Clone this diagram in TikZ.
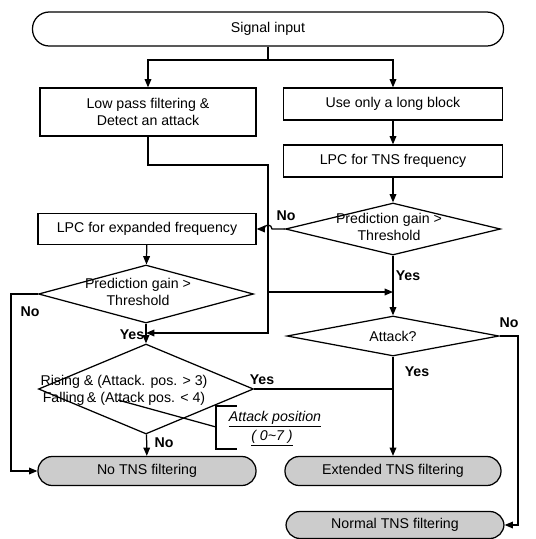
\documentclass[tikz,border=0pt]{standalone}
\usepackage{fontspec}
\setmainfont{Liberation Sans}
\usetikzlibrary{shapes.geometric,arrows.meta}
\begin{document}
\begin{tikzpicture}[
		x=0.6pt, y=-0.6pt, line width=0.75pt,
		>={Triangle[length=5pt,width=4pt]},
		font=\fontsize{8.5}{10}\selectfont,
		blocco/.style={draw, rectangle, inner sep=0pt, align=center},
		inizio/.style={draw, rectangle, rounded corners=10pt, inner sep=0pt},
		terminale/.style={draw, rectangle, rounded corners=8.5pt, fill=black!20, inner sep=0pt},
		scelta/.style={draw, diamond, inner sep=0pt},
		testo/.style={align=center, inner sep=0pt},
		esito/.style={font=\bfseries\fontsize{8.5}{10}\selectfont, inner sep=0pt},
		nota/.style={font=\itshape\fontsize{8.5}{10}\selectfont, inner sep=0pt}]
	
	\def\u{0.6pt}  %% un pixel del riferimento
	
	\useasboundingbox (0,0) rectangle (536,539);
	
	%% --- blocchi ---
	\node[inizio, minimum width=471*\u, minimum height=34*\u] (segnale) at (268,29) {Signal input};
	\node[blocco, minimum width=216*\u, minimum height=48*\u] (passabasso) at (148,112) {Low pass filtering \&\\Detect an attack};
	\node[blocco, minimum width=219*\u, minimum height=32*\u] (lungo) at (393,104) {Use only a long block};
	\node[blocco, minimum width=219*\u, minimum height=32*\u] (lpctns) at (393,161) {LPC for TNS frequency};
	\node[blocco, minimum width=218*\u, minimum height=31*\u] (espanso) at (147,229) {LPC for expanded frequency};
	
	%% --- decisioni (testo a parte, sborda dal rombo) ---
	\node[scelta, minimum width=215*\u, minimum height=52*\u] (guadagnoD) at (393,229) {};
	\node[testo] (guadagnoDt) at (389,227) {Prediction gain >\\Threshold};
	\node[scelta, minimum width=215*\u, minimum height=58*\u] (guadagnoS) at (146,294) {};
	\node[testo] (guadagnoSt) at (138,292) {Prediction gain >\\Threshold};
	\node[scelta, minimum width=212*\u, minimum height=40*\u] (attacco) at (393,336) {};
	\node[testo] (attaccot) at (393,336) {Attack?};
	\node[scelta, minimum width=215*\u, minimum height=90*\u] (condizione) at (146,389) {};
	\node[testo] (condizionet) at (124,390) {Rising \& (Attack. pos. > 3)\\Falling\,\& (Attack pos. < 4)};
	
	%% --- terminali ---
	\node[terminale, minimum width=218*\u, minimum height=29*\u] (noTNS) at (147,471) {No TNS filtering};
	\node[terminale, minimum width=216*\u, minimum height=29*\u] (estesa) at (393,471) {Extended TNS filtering};
	\node[terminale, minimum width=218*\u, minimum height=27*\u] (normale) at (395,525) {Normal TNS filtering};
	
	%% --- punti di giunzione ---
	\coordinate (bivio) at (268,60);
	\coordinate (gomito) at (268,165);
	\coordinate (ramo) at (268,292);
	\coordinate (rientro) at (268,333);
	\coordinate (aggiraS) at (11,294);
	\coordinate (aggiraD) at (518,336);
	
	%% --- collegamenti ---
	\draw (segnale.south) -- (bivio);
	\draw[->] (bivio) -| (passabasso.north);
	\draw[->] (bivio) -| (lungo.north);
	\draw[->] (lungo) -- (lpctns);
	\draw[->] (lpctns) -- (guadagnoD);
	\draw[->] (guadagnoD.west) -- (272,229) arc[start angle=0, end angle=180, radius=4*\u] -- (espanso.east);
	\draw[->] (espanso) -- (guadagnoS);
	\draw[->] (passabasso.south) |- (gomito) -- (rientro) -- (guadagnoS.south |- rientro);
	\draw[->] (ramo) -- (guadagnoD.south |- ramo);
	\draw[->] (guadagnoD) -- (attacco);
	\draw[->] (guadagnoS) -- (condizione);
	\draw[->] (guadagnoS.west) -- (aggiraS) |- (noTNS.west);
	\draw (condizione.east) -- (attacco.south |- condizione.east);
	\draw[->] (attacco) -- (estesa);
	\draw[->] (condizione) -- (noTNS);
	\draw[->] (attacco.east) -- (aggiraD) |- (normale.east);
	
	%% --- etichette Yes / No ---
	\node[esito] (noA) at (286,216) {No};
	\node[esito] (siA) at (408,276) {Yes};
	\node[esito] (noB) at (30,312) {No};
	\node[esito] (siB) at (132,335) {Yes};
	\node[esito] (siC) at (262,380) {Yes};
	\node[esito] (noC) at (164,443) {No};
	\node[esito] (noD) at (509,323) {No};
	\node[esito] (siD) at (417,372) {Yes};
	
	%% --- posizione dell'attacco ---
	\coordinate (graffa) at (216,427);
	\draw (118,400) -- (graffa);
	\draw (237,406) -- (216,406) -- (216,449) -- (237,449);
	\node[nota] (posizione) at (275,419) {\underline{Attack position}};
	\node[nota] (intervallo) at (272,438) {\underline{( 0\textasciitilde7 )}};
	
\end{tikzpicture}
\end{document}
